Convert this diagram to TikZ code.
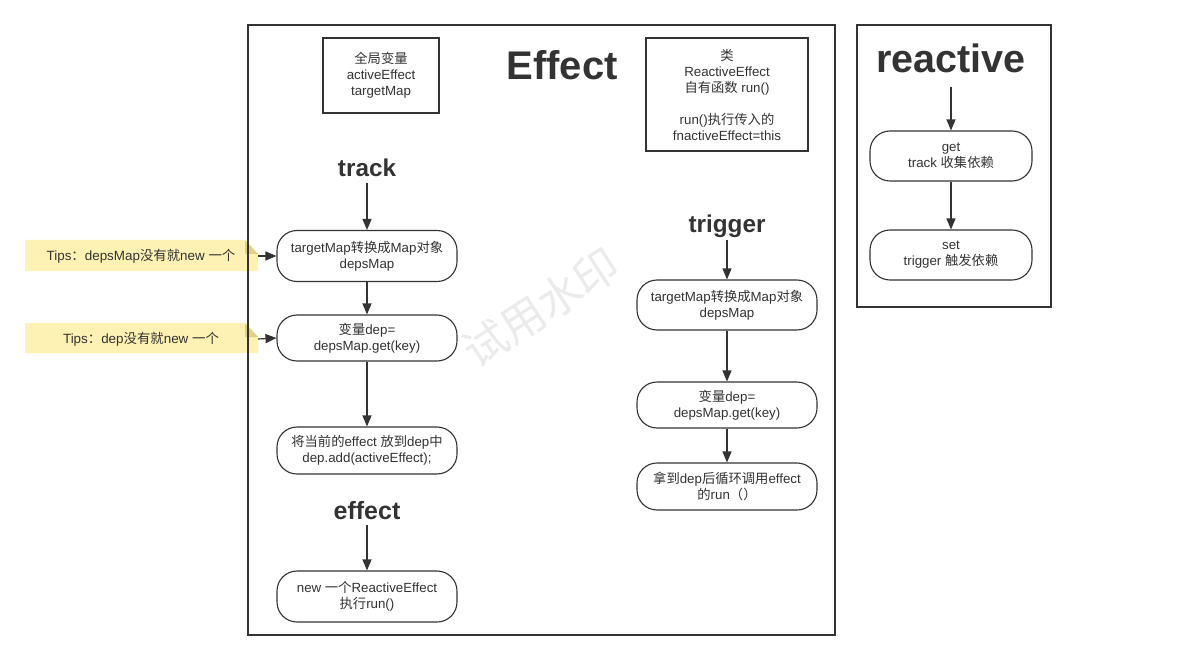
\documentclass[tikz,border=0pt]{standalone}
\usepackage{fontspec}
\setmainfont{Liberation Sans}
\newfontfamily\cjk{Noto Sans CJK SC}
\usetikzlibrary{arrows.meta}
\newcommand{\zhtxt}[1]{{\cjk #1}}
\definecolor{linec}{HTML}{333333}
\definecolor{textc}{HTML}{333333}
\definecolor{tipfill}{HTML}{FDF1B3}
\definecolor{tipfold}{HTML}{E3CF85}
\begin{document}
\begin{tikzpicture}[x=1pt,y=-1pt,
  arr/.style={draw=linec, line width=1.2pt, -{Triangle[length=11pt,width=9pt]}},
  proc/.style={draw=linec, line width=1.1pt, rounded corners=20pt, fill=white,
    minimum width=180pt, minimum height=48pt, align=center, inner sep=2pt,
    font=\fontsize{13.3}{16}\selectfont, text=textc},
  plain/.style={draw=linec, line width=1.1pt, align=center, inner sep=2pt,
    font=\fontsize{13.3}{16}\selectfont, text=textc},
  frame/.style={draw=linec, line width=1.2pt},
  head/.style={text=textc, inner sep=2pt, font=\bfseries\fontsize{24.3}{24.3}\selectfont},
  tiptext/.style={text=textc, font=\fontsize{13.4}{14}\selectfont, inner sep=0pt}
]
\useasboundingbox (0,0) rectangle (1177,660);
\fill[white] (0,0) rectangle (1177,660);

% watermark
\node[rotate=33, text=black!8, font=\cjk\fontsize{44}{44}\selectfont] (wm) at (541,308) {试用水印};

% tips notes
\fill[tipfill] (25,240) -- (245,240) -- (258,254) -- (258,271) -- (25,271) -- cycle;
\fill[tipfold] (245,240) -- (258,254) -- (245,254) -- cycle;
\fill[tipfill] (25,323) -- (245,323) -- (258,337) -- (258,353) -- (25,353) -- cycle;
\fill[tipfold] (245,323) -- (258,337) -- (245,337) -- cycle;
\node[tiptext] (tip1) at (141,256) {Tips\zhtxt{：}depsMap\zhtxt{没有就}new \zhtxt{一个}};
\node[tiptext] (tip2) at (141,339) {Tips\zhtxt{：}dep\zhtxt{没有就}new \zhtxt{一个}};
\coordinate (tip1e) at (258,256);
\coordinate (tip2e) at (258,339);

% frames
\draw[frame] (248,25) rectangle (835,635);
\draw[frame] (857,25) rectangle (1051,307);

% top boxes
\node[plain, minimum width=116pt, minimum height=75pt] (glob) at (381,75.5)
  {\zhtxt{全局变量}\\activeEffect\\targetMap};
\node[plain, minimum width=162pt, minimum height=113pt] (cls) at (727,94.5)
  {\zhtxt{类}\\ReactiveEffect\\\zhtxt{自有函数} run()\\[16pt]run()\zhtxt{执行传入的}\\fnactiveEffect=this};
\node[text=textc, inner sep=0pt, font=\bfseries\fontsize{40}{40}\selectfont] (title) at (562,65) {Effect};

% track column
\node[head] (track) at (367,168) {track};
\node[proc, minimum height=51pt] (n1) at (367,256) {targetMap\zhtxt{转换成}Map\zhtxt{对象}\\depsMap};
\node[proc, minimum height=46pt] (n2) at (367,338) {\zhtxt{变量}dep=\\depsMap.get(key)};
\node[proc, minimum height=47pt] (n3) at (367,450.5) {\zhtxt{将当前的}effect \zhtxt{放到}dep\zhtxt{中}\\dep.add(activeEffect);};
\node[head, font=\bfseries\fontsize{25}{25}\selectfont] (eff) at (367,511) {effect};
\node[proc, minimum height=51pt] (n4) at (367,596.5) {new \zhtxt{一个}ReactiveEffect\\\zhtxt{执行}run()};

\draw[arr, shorten <=4pt] (track.south) -- (n1.north);
\draw[arr] (n1.south) -- (n2.north);
\draw[arr] (n2.south) -- (n3.north);
\draw[arr, shorten <=3pt] (eff.south) -- (n4.north);
\draw[arr] (tip1e) -- (n1.west);
\draw[arr] (tip2e) -- (n2.west);

% trigger column
\node[head] (trig) at (727,226) {trigger};
\node[proc, minimum height=50pt] (t1) at (727,305) {targetMap\zhtxt{转换成}Map\zhtxt{对象}\\depsMap};
\node[proc, minimum height=46pt] (t2) at (727,405) {\zhtxt{变量}dep=\\depsMap.get(key)};
\node[proc, minimum height=47pt] (t3) at (727,486.5) {\zhtxt{拿到}dep\zhtxt{后循环调用}effect\\\zhtxt{的}run\zhtxt{（）}};
\draw[arr] (trig.south) -- (t1.north);
\draw[arr] (t1.south) -- (t2.north);
\draw[arr] (t2.south) -- (t3.north);

% reactive column
\node[text=textc, inner sep=2pt, font=\bfseries\fontsize{39.5}{39.5}\selectfont] (react) at (951,58) {reactive};
\node[proc, minimum width=162pt, minimum height=50pt] (r1) at (951,156) {get\\track \zhtxt{收集依赖}};
\node[proc, minimum width=162pt, minimum height=50pt] (r2) at (951,255) {set\\trigger \zhtxt{触发依赖}};
\draw[arr, shorten <=12pt] (react.south) -- (r1.north);
\draw[arr] (r1.south) -- (r2.north);
\end{tikzpicture}
\end{document}
